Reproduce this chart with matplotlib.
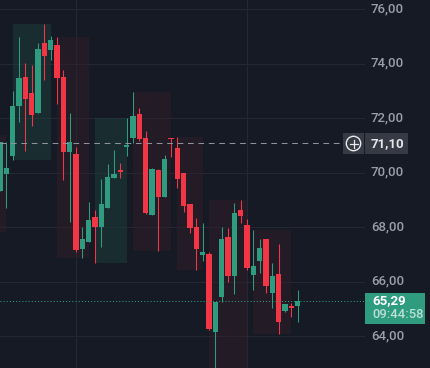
import matplotlib
matplotlib.use("Agg")
import matplotlib.pyplot as plt
from matplotlib.patches import Rectangle, Circle
import numpy as np

# candles, from the picture
opens = [69.33, 69.96, 70.62, 72.45, 73.52, 72.93, 72.19, 74.76, 74.51, 74.69, 73.52, 70.76,
         70.69, 67.20, 67.46, 68.38, 68.01, 68.71, 69.81, 70.10, 70.95, 71.28, 72.16, 71.28,
         68.45, 70.10, 69.11, 71.28, 70.91, 69.99, 68.85, 68.01, 66.98, 67.02, 64.16, 65.44,
         67.64, 66.21, 68.63, 68.08, 66.25, 66.76, 67.57, 65.59, 66.29, 64.93, 65.11, 65.11]
highs = [71.13, 71.13, 73.00, 74.98, 74.03, 73.96, 74.76, 75.46, 75.02, 74.98, 73.77, 72.19,
         70.95, 68.01, 68.93, 68.63, 69.77, 70.32, 70.84, 70.36, 72.01, 72.97, 72.38, 71.53,
         70.18, 70.14, 70.65, 71.28, 71.31, 69.99, 68.85, 68.34, 68.16, 67.09, 65.26, 68.01,
         67.97, 68.89, 69.00, 68.30, 67.90, 67.57, 67.57, 66.69, 67.39, 65.18, 65.22, 65.70]
lows = [69.33, 68.71, 70.47, 71.86, 70.80, 71.72, 72.19, 73.41, 74.14, 72.52, 69.73, 68.19,
        67.09, 66.87, 67.46, 66.69, 67.28, 68.71, 69.81, 69.81, 70.62, 71.09, 71.17, 68.49,
        68.45, 67.13, 69.11, 70.58, 69.44, 68.56, 67.79, 66.43, 66.76, 64.23, 62.50, 65.26,
        65.99, 65.55, 68.16, 66.43, 65.70, 66.32, 65.59, 65.04, 64.08, 64.89, 64.71, 64.52]
closes = [71.13, 70.18, 72.45, 73.48, 72.71, 72.12, 74.54, 74.29, 74.87, 73.48, 70.76, 71.13,
          67.17, 67.57, 68.27, 68.01, 68.85, 69.85, 69.96, 70.03, 71.02, 72.08, 71.24, 68.52,
          70.14, 69.11, 70.51, 71.24, 69.77, 68.78, 67.97, 67.20, 67.09, 64.27, 65.26, 67.57,
          66.21, 68.52, 68.41, 66.51, 66.58, 67.24, 65.85, 66.21, 64.52, 65.18, 65.04, 65.29]

# zones: first candle, last candle, top price, bottom price
green_zones = [(2, 8, 75.46, 70.47), (15, 20, 72.01, 66.69)]
red_zones = [(-1, 1, 71.39, 67.83), (9, 14, 74.98, 66.87), (21, 27, 72.97, 67.13),
             (28, 32, 71.31, 66.43), (33, 39, 69.00, 62.50), (40, 46, 67.90, 64.08)]

price_ticks = [76, 74, 72, 70, 68, 66, 64]
vgrid = [12, 39]
cross_price = 71.10
last_price = 65.29

BG = "#161a25"
GRID = "#252833"
GREEN = "#2f9c80"
RED = "#f23645"
TXT = "#9b9ea8"

plt.rcParams['font.family'] = ['Roboto', 'DejaVu Sans']

fig = plt.figure(figsize=(4.3, 3.68), dpi=100, facecolor=BG)
ax = fig.add_axes([0, 0, 1, 1], facecolor=BG)
ax.set_xlim(0, 430 / 6.334)
ax.set_ylim(62.84, 76.34)
ax.axis("off")

plot_right = 364 / 430  # chart stops here, price scale after that
trans = ax.get_yaxis_transform()

for p in price_ticks:
    ax.plot([0, plot_right], [p, p], transform=trans, color=GRID, lw=0.75, zorder=1)
    ax.text(404 / 430, p + 0.03, f"{p},00", transform=trans, color=TXT, fontsize=9.5, fontweight="medium",
            ha="right", va="center", zorder=6)
for v in vgrid:
    ax.axvline(v, color=GRID, lw=0.75, zorder=1)

for a, b, top, bot in green_zones:
    ax.add_patch(Rectangle((a, bot), b - a, top - bot, color="#1d3d3c", alpha=0.55, lw=0, zorder=2))
for a, b, top, bot in red_zones:
    ax.add_patch(Rectangle((a, bot), b - a, top - bot, color="#311f2a", alpha=0.5, lw=0, zorder=2))

x = np.arange(len(opens))
o = np.array(opens)
c = np.array(closes)
cols = [GREEN if cc >= oo else RED for oo, cc in zip(opens, closes)]
ax.vlines(x, lows, highs, colors=cols, lw=0.75, zorder=3)
ax.bar(x, np.maximum(np.abs(c - o), 0.05), bottom=np.minimum(o, c), width=0.8, color=cols, lw=0, zorder=4)

# crosshair and last price line
ax.plot([0, 343 / 430], [cross_price, cross_price], transform=trans, color="#8f929c", lw=0.75,
        dashes=(5.5, 4.5), zorder=5)
ax.plot([0, plot_right], [last_price, last_price], transform=trans, color=GREEN, lw=0.75,
        dashes=(1, 2), zorder=5)

# boxes on the right, drawn in pixels
pix = fig.transFigure
def box(x0, y0, x1, y1, col):
    fig.add_artist(Rectangle((x0 / 430, 1 - y1 / 368), (x1 - x0) / 430, (y1 - y0) / 368,
                             transform=pix, color=col, lw=0, zorder=7))

box(343, 133, 364, 154, "#363a45")
box(365, 133, 408, 154, "#363a45")
box(365, 293, 425, 324, "#2f9c80")
fig.add_artist(Circle((353.5, 368 - 143.5), 7.2, transform=None, fill=False, ec="#e8e9ec", lw=1.0, zorder=8))
fig.add_artist(plt.Line2D([349.5, 357.5], [224.5, 224.5], transform=None, color="#e8e9ec", lw=0.9, zorder=8))
fig.add_artist(plt.Line2D([353.5, 353.5], [220.5, 228.5], transform=None, color="#e8e9ec", lw=0.9, zorder=8))

fig.text(404 / 430, 1 - 143.5 / 368, "71,10", color="#e4e5e8", fontsize=9.5, fontweight="bold",
         ha="right", va="center", zorder=9)
fig.text(372.5 / 430, 1 - 300.5 / 368, "65,29", color="white", fontsize=9.5, fontweight="bold",
         ha="left", va="center", zorder=9)
fig.text(372.5 / 430, 1 - 314.5 / 368, "09:44:58", color="#b9e0d5", fontsize=9.4, fontweight="medium",
         ha="left", va="center", zorder=9)

fig.savefig("out.png", dpi=100, facecolor=BG)
